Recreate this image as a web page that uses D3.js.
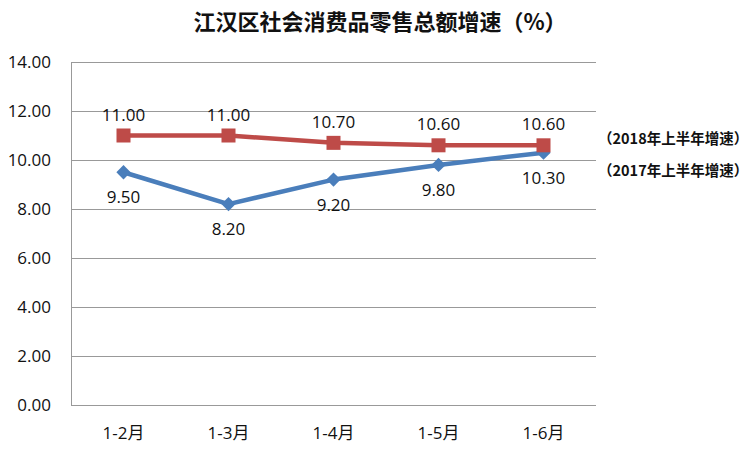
<!DOCTYPE html>
<html><head><meta charset="utf-8">
<script src="https://cdn.jsdelivr.net/npm/d3@7"></script>
<style>body{margin:0;background:#fff}</style>
</head><body>
<svg id="c" width="754" height="451"></svg>
<script>
const categories = ["1-2月","1-3月","1-4月","1-5月","1-6月"];
const values2018 = [11.00, 11.00, 10.70, 10.60, 10.60];
const values2017 = [9.50, 8.20, 9.20, 9.80, 10.30];
const yTicks = [0,2,4,6,8,10,12,14];
const seriesNames = ["（2018年上半年增速）","（2017年上半年增速）"];
const title = "江汉区社会消费品零售总额增速（%）";

const svg = d3.select("#c");
const m = {l:71, r:596, t:62, b:405};
const x = d3.scaleBand().domain(categories).range([m.l, m.r]);
const y = d3.scaleLinear().domain([0,14]).range([m.b, m.t]);
const font = "'Open Sans','Noto Sans CJK SC',sans-serif";

svg.append("text").attr("x", 380).attr("y", 30).attr("text-anchor","middle")
  .attr("font-family","'Noto Sans CJK SC',sans-serif").attr("font-weight","bold")
  .attr("font-size",22).attr("fill","#111").text(title);

// grid
svg.append("g").selectAll("line").data(yTicks).join("line")
  .attr("x1", m.l).attr("x2", m.r).attr("y1", d=>y(d)).attr("y2", d=>y(d))
  .attr("stroke","#999").attr("stroke-width",1).attr("shape-rendering","crispEdges");
svg.append("line").attr("x1",m.l).attr("x2",m.l).attr("y1",m.t).attr("y2",m.b)
  .attr("stroke","#999").attr("shape-rendering","crispEdges");

// y axis labels
const ya = svg.append("g").attr("transform",`translate(${m.l},0)`)
  .call(d3.axisLeft(y).tickValues(yTicks).tickFormat(d3.format(".2f")).tickSize(0).tickPadding(20));
ya.select(".domain").remove();
ya.selectAll("text").attr("font-family",font).attr("font-size",17).attr("fill","#111");

// x axis labels
const xa = svg.append("g").attr("transform",`translate(0,${m.b})`)
  .call(d3.axisBottom(x).tickSize(0).tickPadding(22));
xa.select(".domain").remove();
xa.selectAll("text").attr("font-family",font).attr("font-size",17).attr("fill","#111");

const cx = d => x(d) + x.bandwidth()/2;
const line = d3.line().x((d,i)=>cx(categories[i])).y(d=>y(d));

// 2017 blue
svg.append("path").datum(values2017).attr("d",line).attr("fill","none")
  .attr("stroke","#4A7EBB").attr("stroke-width",4.5).attr("stroke-linejoin","round");
svg.append("g").selectAll("path").data(values2017).join("path")
  .attr("transform",(d,i)=>`translate(${cx(categories[i])},${y(d)})`)
  .attr("d", d3.symbol(d3.symbolDiamond2, 130)()).attr("fill","#4A7EBB");
// 2018 red
svg.append("path").datum(values2018).attr("d",line).attr("fill","none")
  .attr("stroke","#BE4B48").attr("stroke-width",4.5).attr("stroke-linejoin","round");
svg.append("g").selectAll("rect").data(values2018).join("rect")
  .attr("x",(d,i)=>cx(categories[i])-7).attr("y",d=>y(d)-7).attr("width",14).attr("height",14)
  .attr("fill","#BE4B48");

// labels
svg.append("g").selectAll("text").data(values2018).join("text")
  .attr("x",(d,i)=>cx(categories[i])).attr("y",d=>y(d)-15).attr("text-anchor","middle")
  .attr("font-family",font).attr("font-size",17).attr("fill","#111").text(d=>d.toFixed(2));
svg.append("g").selectAll("text").data(values2017).join("text")
  .attr("x",(d,i)=>cx(categories[i])).attr("y",d=>y(d)+31).attr("text-anchor","middle")
  .attr("font-family",font).attr("font-size",17).attr("fill","#111").text(d=>d.toFixed(2));

// series names
svg.append("g").selectAll("text").data(seriesNames).join("text")
  .attr("x",598).attr("y",(d,i)=>[144,176][i])
  .attr("font-family","'Noto Sans CJK SC',sans-serif").attr("font-weight","bold")
  .attr("font-size",14.5).attr("fill","#111").text(d=>d);
</script>
</body></html>
